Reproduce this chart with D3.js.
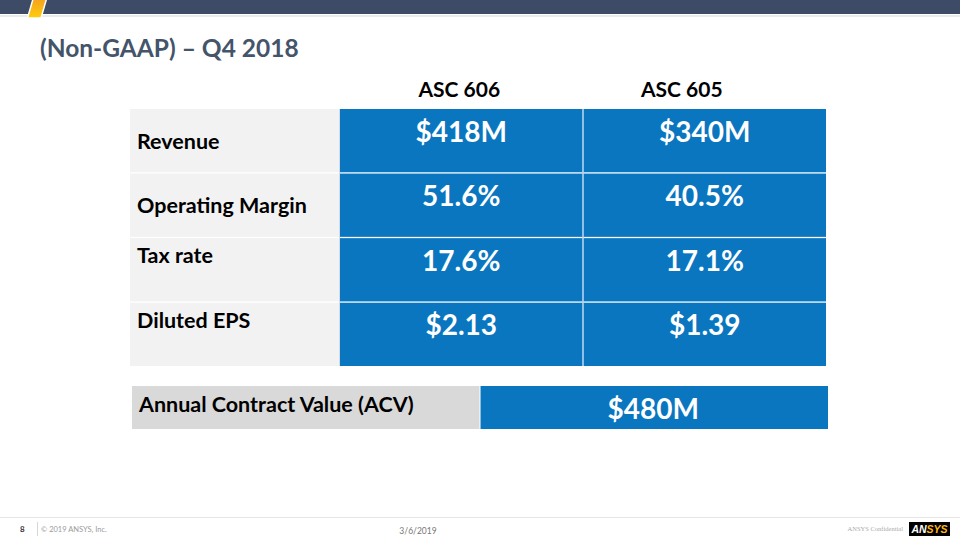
<!DOCTYPE html>
<html>
<head>
<meta charset="utf-8">
<script src="https://cdn.jsdelivr.net/npm/d3@7/dist/d3.min.js"></script>
<style>
  html, body { margin: 0; padding: 0; background: #fff; }
  svg { display: block; font-family: Lato, "Open Sans", sans-serif; }
</style>
</head>
<body>
<svg id="chart" width="960" height="540"></svg>
<script>
// ---- data ----
const title = "(Non-GAAP) – Q4 2018";
const columns = ["ASC 606", "ASC 605"];
const metrics = ["Revenue", "Operating Margin", "Tax rate", "Diluted EPS"];
const asc606 = ["$418M", "51.6%", "17.6%", "$2.13"];
const asc605 = ["$340M", "40.5%", "17.1%", "$1.39"];
const acvLabel = ["Annual Contract Value (ACV)"];
const acvValue = ["$480M"];
const footer = { page: "8", copyright: "© 2019 ANSYS, Inc.", date: "3/6/2019", confidential: "ANSYS Confidential" };

// ---- styles ----
const NAVY = "#3d4b66", BLUE = "#0a76c0", LIGHT = "#f2f2f2", GRAY = "#d9d9d9", TITLE = "#44546a";
const LABEL_SIZE = 21.5, VALUE_SIZE = 28;

const svg = d3.select("#chart");

// top bar
svg.append("rect").attr("x", 0).attr("y", 0).attr("width", 960).attr("height", 14).attr("fill", NAVY);
svg.append("rect").attr("x", 0).attr("y", 15.5).attr("width", 960).attr("height", 1).attr("fill", "#d3d7dd");
const defs = svg.append("defs");
const grad = defs.append("linearGradient").attr("id", "yg").attr("x1", 0).attr("y1", 0).attr("x2", 0).attr("y2", 1);
grad.append("stop").attr("offset", "0%").attr("stop-color", "#f4a31f");
grad.append("stop").attr("offset", "100%").attr("stop-color", "#ffcc0a");
svg.append("polygon").attr("points", "33,-1 46.5,-1 41,18 27.5,18")
  .attr("fill", "url(#yg)").attr("stroke", "#fff").attr("stroke-width", 1.5);

// title
svg.append("text").attr("x", 40).attr("y", 57).text(title)
  .attr("fill", TITLE).attr("font-size", 24.5).attr("font-weight", 700);

// scales
const labelX0 = 130, labelX1 = 339;
const x = d3.scaleBand().domain(columns).range([340, 826]).paddingInner(0.004);
const y = d3.scaleBand().domain(metrics).range([109, 366]).paddingInner(0.02);
const values = { "ASC 606": asc606, "ASC 605": asc605 };

// headers
svg.selectAll("text.hdr").data(columns).join("text").attr("class", "hdr")
  .attr("x", (d, i) => x(d) + x.bandwidth() / 2 + (i ? -23 : -2))
  .attr("y", 97).attr("text-anchor", "middle")
  .attr("font-size", 21).attr("font-weight", 700).attr("fill", "#000").text(d => d);

// label column
const rows = svg.selectAll("g.row").data(metrics).join("g").attr("class", "row");
rows.append("rect").attr("x", labelX0).attr("y", d => y(d))
  .attr("width", labelX1 - labelX0).attr("height", y.bandwidth()).attr("fill", LIGHT);
rows.append("text").attr("x", 137)
  .attr("y", (d, i) => i < 2 ? y(d) + y.bandwidth() / 2 + 8 : y(d) + 25)
  .attr("font-size", LABEL_SIZE).attr("font-weight", 700).attr("fill", "#000").text(d => d);

// value cells
columns.forEach(c => {
  const cells = svg.selectAll(null).data(metrics).enter();
  cells.append("rect").attr("x", x(c)).attr("y", d => y(d))
    .attr("width", x.bandwidth()).attr("height", y.bandwidth()).attr("fill", BLUE);
  cells.append("text").attr("x", x(c) + x.bandwidth() / 2).attr("y", d => y(d) + 32.5)
    .attr("text-anchor", "middle").attr("font-size", VALUE_SIZE).attr("font-weight", 700)
    .attr("fill", "#fff").text((d, i) => values[c][i]);
});
// column separators
svg.append("line").attr("x1", x(columns[1]) - 0.5).attr("x2", x(columns[1]) - 0.5)
  .attr("y1", 109).attr("y2", 366).attr("stroke", "#9cc6e8").attr("stroke-width", 1.2);
svg.append("line").attr("x1", 339.5).attr("x2", 339.5)
  .attr("y1", 109).attr("y2", 366).attr("stroke", "#d0dce8").attr("stroke-width", 1);

// ACV row
const ax = d3.scaleBand().domain(["label", "value"]).range([132, 828]).paddingInner(0.003);
const ay = 386, ah = 43;
svg.append("rect").attr("x", ax("label")).attr("y", ay).attr("width", ax.bandwidth()).attr("height", ah).attr("fill", GRAY);
svg.append("rect").attr("x", ax("value")).attr("y", ay).attr("width", ax.bandwidth()).attr("height", ah).attr("fill", BLUE);
svg.append("text").attr("x", 139).attr("y", 412).text(acvLabel[0])
  .attr("font-size", LABEL_SIZE).attr("font-weight", 700).attr("fill", "#000");
svg.append("text").attr("x", ax("value") + ax.bandwidth() / 2 - 1).attr("y", 419).text(acvValue[0])
  .attr("text-anchor", "middle").attr("font-size", VALUE_SIZE).attr("font-weight", 700).attr("fill", "#fff");

// footer
svg.append("rect").attr("x", 0).attr("y", 517).attr("width", 960).attr("height", 1).attr("fill", "#e6e6e6");
svg.append("text").attr("x", 20).attr("y", 532).text(footer.page)
  .attr("font-size", 8).attr("font-weight", 700).attr("fill", "#333");
svg.append("rect").attr("x", 37).attr("y", 522).attr("width", 0.8).attr("height", 14).attr("fill", "#ccc");
svg.append("text").attr("x", 41).attr("y", 532).text(footer.copyright)
  .attr("font-size", 7.5).attr("fill", "#9a9a9a");
svg.append("text").attr("x", 418).attr("y", 534).text(footer.date)
  .attr("text-anchor", "middle").attr("font-size", 8.5).attr("fill", "#777");
svg.append("text").attr("x", 903).attr("y", 531).text(footer.confidential)
  .attr("text-anchor", "end").attr("font-size", 6.5).attr("fill", "#aaa").attr("font-family", "Liberation Serif, serif");
svg.append("rect").attr("x", 909).attr("y", 522).attr("width", 41).attr("height", 14).attr("fill", "#000");
const logo = svg.append("text").attr("x", 929.5).attr("y", 533).attr("text-anchor", "middle")
  .attr("font-size", 10.5).attr("font-weight", 900).attr("font-style", "italic").attr("font-family", "Liberation Sans, Arial, sans-serif");
logo.append("tspan").attr("fill", "#fff").text("AN");
logo.append("tspan").attr("fill", "#ffb71b").text("SYS");
</script>
</body>
</html>
